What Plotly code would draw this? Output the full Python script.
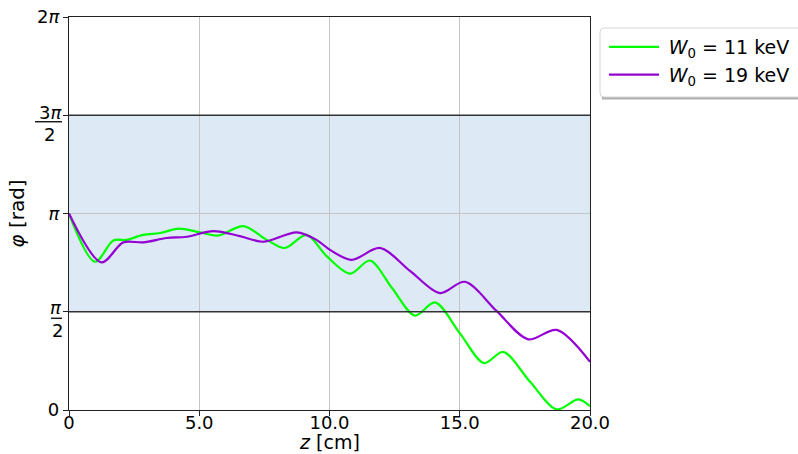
import numpy as np
import plotly.graph_objects as go

PI = np.pi

# Phase along the drift tube, W0 = 11 keV
z_11 = [0.0, 1.0, 1.7, 2.2, 2.85, 3.5, 4.2, 5.03, 5.73, 6.69, 7.59, 8.29, 9.12, 9.89,
        10.79, 11.55, 12.4, 13.28, 14.05, 15.0, 15.93, 16.67, 17.7, 18.72, 19.55, 20.0]
phi_11 = [3.14, 2.37, 2.71, 2.72, 2.80, 2.83, 2.90, 2.84, 2.79, 2.94, 2.72, 2.59, 2.80, 2.46,
          2.18, 2.39, 1.95, 1.51, 1.72, 1.23, 0.75, 0.93, 0.45, 0.01, 0.17, 0.06]

# Phase along the drift tube, W0 = 19 keV
z_19 = [0.0, 1.25, 2.08, 2.85, 3.75, 4.52, 5.54, 6.56, 7.46, 8.74, 9.5, 10.02,
        10.85, 11.94, 13.1, 14.24, 15.2, 16.42, 17.63, 18.72, 20.0]
phi_19 = [3.14, 2.36, 2.68, 2.68, 2.75, 2.77, 2.86, 2.78, 2.69, 2.84, 2.72, 2.56,
          2.40, 2.59, 2.22, 1.87, 2.05, 1.58, 1.13, 1.28, 0.77]

series_names = ["\u2005<i>W</i><sub>0</sub> = 11 keV", "\u2005<i>W</i><sub>0</sub> = 19 keV"]
series_colors = ["#00ff00", "#9400d3"]

x_ticks = [0, 5, 10, 15, 20]
x_ticktext = ["0", "5.0", "10.0", "15.0", "20.0"]
y_ticks = [0, PI / 2, PI, 3 * PI / 2, 2 * PI]
y_ticktext = ["0", "", "<i>π</i>", "", "2<i>π</i>"]
# stacked fraction labels: (value, numerator, denominator, bar width px, numerator lift px)
frac_labels = [(PI / 2, "<i>π</i>", "2", 11, 4), (3 * PI / 2, "3<i>π</i>", "2", 27, 3)]
x_title = "<i>z</i> [cm]"
y_title = "<i>φ</i> [rad]"

FONT = "DejaVu Sans"
W, H = 798, 454
ML, MR, MT, MB = 69, 208, 17, 44
PW, PH = W - ML - MR, H - MT - MB


def px(xp):
    return (xp - ML) / PW


def py(yp):
    return (H - MB - yp) / PH


fig = go.Figure()
for i, (zz, pp, name, col) in enumerate(zip([z_11, z_19], [phi_11, phi_19], series_names, series_colors)):
    fig.add_trace(go.Scatter(x=zz, y=pp, mode="lines", name=name, legendgroup=f"g{i}",
                             line=dict(color=col, width=2.2, shape="spline", smoothing=0.9)))

# shaded band between pi/2 and 3pi/2
fig.add_shape(type="rect", xref="paper", yref="y", x0=0, x1=1, y0=PI / 2, y1=3 * PI / 2,
              fillcolor="#dde9f4", line_width=0, layer="below")
for yv in (PI / 2, 3 * PI / 2):
    fig.add_shape(type="line", xref="paper", yref="y", x0=0, x1=1, y0=yv, y1=yv,
                  line=dict(color="#333333", width=1.5), layer="above")

# fraction tick labels
for yv, num, den, bw, lift in frac_labels:
    fig.add_annotation(xref="paper", yref="y", x=px(63), y=yv, text=num, showarrow=False,
                       xanchor="right", yanchor="middle", yshift=lift, borderpad=0,
                       font=dict(family=FONT, size=18, color="black"))
    fig.add_annotation(xref="paper", yref="y", x=px(63 - bw / 2), y=yv, text=den, showarrow=False,
                       xanchor="center", yanchor="middle", yshift=-19, borderpad=0,
                       font=dict(family=FONT, size=18, color="black"))
    fig.add_shape(type="line", xref="paper", yref="y", x0=px(62 - bw), x1=px(62),
                  y0=-6.5, y1=-6.5, ysizemode="pixel", yanchor=yv,
                  line=dict(color="black", width=1.3))

# x-axis title placed below the tick labels
fig.add_annotation(xref="paper", yref="paper", x=0.5, y=py(442), text=x_title, showarrow=False,
                   xanchor="center", yanchor="middle", borderpad=0,
                   font=dict(family=FONT, size=19, color="black"))

# legend frame: shadow plus rounded box
lx0, lx1, ly0, ly1, r = 600, 812, 28, 97, 4
fig.add_shape(type="rect", xref="paper", yref="paper", x0=px(lx0 + 2), x1=px(lx1 + 2),
              y0=py(ly1 + 2.5), y1=py(ly0 + 2.5), fillcolor="#b0b0b0", line_width=0)
path = (f"M{px(lx0 + r)},{py(ly0)} L{px(lx1 - r)},{py(ly0)} "
        f"Q{px(lx1)},{py(ly0)} {px(lx1)},{py(ly0 + r)} L{px(lx1)},{py(ly1 - r)} "
        f"Q{px(lx1)},{py(ly1)} {px(lx1 - r)},{py(ly1)} L{px(lx0 + r)},{py(ly1)} "
        f"Q{px(lx0)},{py(ly1)} {px(lx0)},{py(ly1 - r)} L{px(lx0)},{py(ly0 + r)} "
        f"Q{px(lx0)},{py(ly0)} {px(lx0 + r)},{py(ly0)} Z")
fig.add_shape(type="path", xref="paper", yref="paper", path=path,
              fillcolor="white", line=dict(color="#d5d5d5", width=1))

axis_common = dict(showline=True, linecolor="#222222", linewidth=1.3, mirror=True,
                   ticks="outside", ticklen=5, tickwidth=1.2, tickcolor="#222222",
                   showgrid=True, gridcolor="#c4c4c4", gridwidth=1, zeroline=False,
                   automargin=False,
                   tickfont=dict(family=FONT, size=18, color="black"))

fig.update_xaxes(range=[0, 20], tickvals=x_ticks, ticktext=x_ticktext, ticklabelstandoff=-9,
                 **axis_common)
fig.update_yaxes(range=[0, 2 * PI], tickvals=y_ticks, ticktext=y_ticktext,
                 title=dict(text=y_title, font=dict(family=FONT, size=20, color="black"),
                            standoff=6),
                 **axis_common)

fig.update_layout(
    width=W, height=H,
    margin=dict(l=ML, r=MR, t=MT, b=MB, autoexpand=False),
    plot_bgcolor="white", paper_bgcolor="white",
    font=dict(family=FONT, size=18, color="black"),
    legend=dict(x=px(604), y=py(28), xanchor="left", yanchor="top",
                bgcolor="rgba(0,0,0,0)", borderwidth=0,
                traceorder="grouped", tracegroupgap=0, itemwidth=50,
                font=dict(family=FONT, size=19, color="black")),
    showlegend=True,
)

fig.write_html("out.html")
